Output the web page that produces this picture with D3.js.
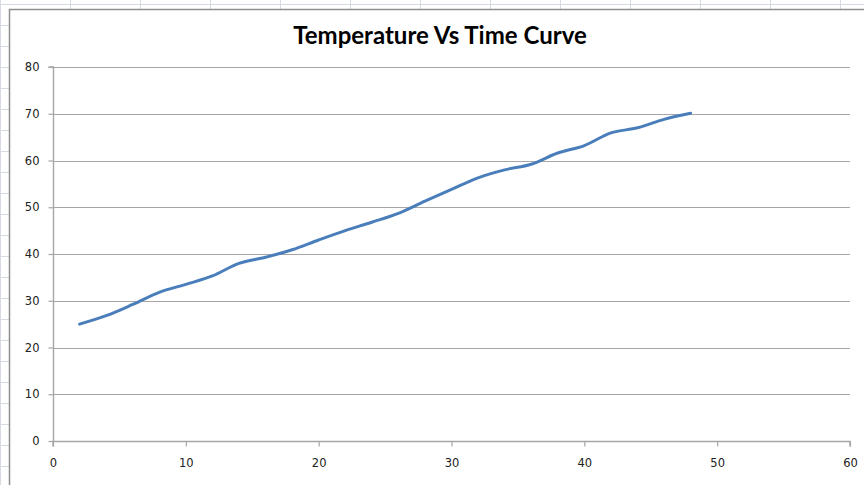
<!DOCTYPE html>
<html><head><meta charset="utf-8">
<script src="https://cdn.jsdelivr.net/npm/d3@7"></script>
<style>html,body{margin:0;padding:0;background:#fff;}svg{display:block;}</style>
</head><body>
<svg id="c" width="864" height="485"></svg>
<script>
const title = "Temperature Vs Time Curve";
const times = [2,4,6,8,10,12,14,16,18,20,22,24,26,28,30,32,34,36,38,40,42,44,46,48];
const temps = [25,26.8,29.2,31.8,33.5,35.3,38.0,39.3,40.9,43.0,45.0,46.8,48.7,51.3,53.8,56.3,58.0,59.2,61.6,63.2,65.9,67.0,68.8,70.1];
const xTicks = [0,10,20,30,40,50,60];
const yTicks = [0,10,20,30,40,50,60,70,80];

const svg = d3.select("#c");
// spreadsheet background grid
const bg = svg.append("g");
d3.range(0, 900, 70).forEach(x => bg.append("line").attr("x1", x+0.5).attr("x2", x+0.5).attr("y1", 0).attr("y2", 485).attr("stroke", "#d6dbe3").attr("stroke-width", 1));
d3.range(4, 485, 21).forEach(y => bg.append("line").attr("x1", 0).attr("x2", 864).attr("y1", y+0.5).attr("y2", y+0.5).attr("stroke", "#d6dbe3").attr("stroke-width", 1));
// chart area
svg.append("rect").attr("x", 9.5).attr("y", 9.5).attr("width", 900).attr("height", 500)
  .attr("fill", "#fff").attr("stroke", "#8e8e8e").attr("stroke-width", 1.5);

const x = d3.scaleLinear().domain([0, 60]).range([53, 850]);
const y = d3.scaleLinear().domain([0, 80]).range([441, 67]);

// gridlines
svg.append("g").selectAll("line").data(yTicks).join("line")
  .attr("x1", x(0)).attr("x2", x(60)).attr("y1", d => Math.round(y(d))+0.5).attr("y2", d => Math.round(y(d))+0.5)
  .attr("stroke", "#a6a6a6").attr("stroke-width", 1.2);

const axisColor = "#a6a6a6";
const yAxis = svg.append("g").attr("transform", `translate(${x(0)+0.5},0)`)
  .call(d3.axisLeft(y).tickValues(yTicks).tickSize(5).tickPadding(9).tickFormat(d3.format("d")));
const xAxis = svg.append("g").attr("transform", `translate(0,${Math.round(y(0))+0.5})`)
  .call(d3.axisBottom(x).tickValues(xTicks).tickSize(5).tickPadding(12).tickFormat(d3.format("d")));
[yAxis, xAxis].forEach(a => {
  a.select(".domain").attr("stroke", axisColor).attr("stroke-width", 1.4);
  a.selectAll(".tick line").attr("stroke", axisColor).attr("stroke-width", 1.2);
  a.selectAll("text").attr("fill", "#222").style("font-family", "'DejaVu Sans', sans-serif").style("font-size", "11.5px");
});
xAxis.select(".domain").attr("d", `M${x(0)},5V0H${x(60)}V5`);
yAxis.select(".domain").attr("d", `M-5,${y(80)}H0V${y(0)}`);

// line
const pts = times.map((t, i) => [t, temps[i]]);
svg.append("path").datum(pts)
  .attr("fill", "none").attr("stroke", "#4a7ebb").attr("stroke-width", 3).attr("stroke-linecap", "round")
  .attr("d", d3.line().x(d => x(d[0])).y(d => y(d[1])).curve(d3.curveCatmullRom.alpha(0.5)));

// title
svg.append("text").attr("x", 440).attr("y", 44).attr("text-anchor", "middle")
  .style("font-family", "Lato, 'Open Sans', sans-serif").style("font-weight", "bold").style("font-size", "24px")
  .attr("fill", "#000").text(title);
</script>
</body></html>
